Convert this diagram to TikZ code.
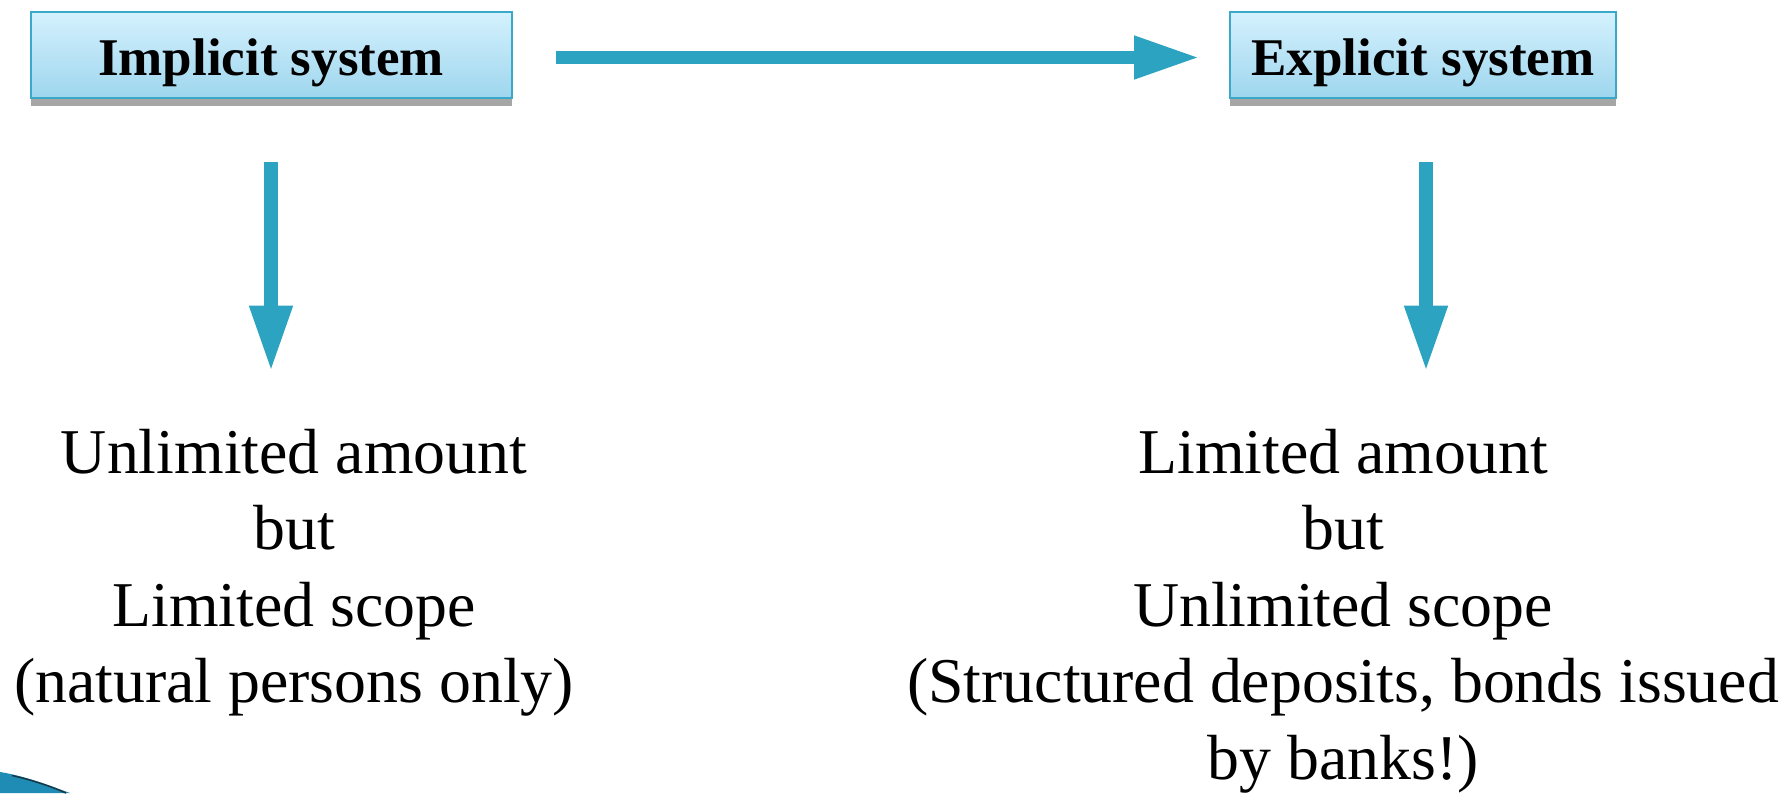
\documentclass[tikz,border=0pt]{standalone}
\usepackage{fontspec}
\setmainfont{Liberation Serif}
\usetikzlibrary{arrows.meta,shadows}
\definecolor{arrowteal}{RGB}{44,163,192}
\definecolor{boxedge}{RGB}{58,168,200}
\definecolor{boxtop}{RGB}{212,241,253}
\definecolor{boxbottom}{RGB}{158,214,238}
\definecolor{shadowgray}{RGB}{166,166,166}
\definecolor{swooshfill}{RGB}{30,140,180}
\definecolor{swooshdark}{RGB}{25,55,70}
\tikzset{
  sysbox/.style={draw=boxedge, line width=2pt, top color=boxtop, bottom color=boxbottom,
    font=\fontsize{53}{60}\selectfont\bfseries, text height=41pt, text depth=0pt,
    minimum height=86pt, inner ysep=22.5pt, inner xsep=0pt,
    drop shadow={shadow xshift=0pt, shadow yshift=-7.5pt, fill=shadowgray, opacity=1}},
  bigarrow/.style={draw=arrowteal, line width=13.4pt,
    -{Triangle[length=66pt, width=40pt, fill=arrowteal]}},
  bodytext/.style={align=center, anchor=base, inner sep=0pt,
    font=\fontsize{63.8}{76.5}\selectfont}
}
\begin{document}
\begin{tikzpicture}[x=1pt,y=-1pt]
\useasboundingbox (0,0) rectangle (1785,793);
\node[sysbox, minimum width=481pt] (L) at (271,55.3) {Implicit system};
\node[sysbox, minimum width=386pt] (R) at (1423,55.3) {Explicit system};
% base anchor of a multi-line node is the baseline of its last line
\node[bodytext] (LT) at (294,702.8) {Unlimited amount\\but\\Limited scope\\(natural persons only)};
\node[bodytext] (RT) at (1343,779.3) {Limited amount\\but\\Unlimited scope\\(Structured deposits, bonds issued\\by banks!)};
\coordinate (la) at (271,371.7);
\coordinate (ra) at (1426,371.7);
\draw[bigarrow, shorten <=43.5pt, shorten >=29pt] ([yshift=-2.2pt]L.east) -- ([yshift=-2.2pt]R.west);
\draw[bigarrow, shorten <=63pt] (L.south) -- (la);
\draw[bigarrow, shorten <=63pt] ([xshift=3pt]R.south) -- (ra);
\fill[swooshfill] (0,772) .. controls (25,776) and (48,785) .. (70,793) -- (0,793) -- cycle;
\draw[swooshdark, line width=1.5pt] (12,775.5) .. controls (32,780) and (50,786) .. (66,793);
\end{tikzpicture}
\end{document}
